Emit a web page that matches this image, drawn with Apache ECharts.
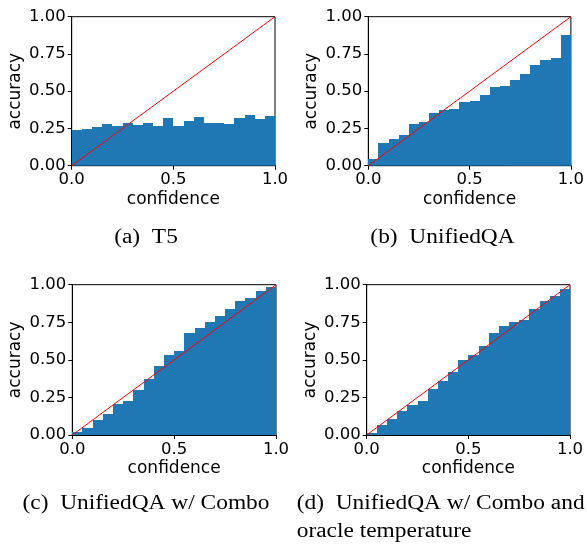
<!DOCTYPE html>
<html>
<head>
<meta charset="utf-8">
<script src="https://cdn.jsdelivr.net/npm/echarts@6/dist/echarts.min.js"></script>
<style>
html,body{margin:0;padding:0;background:#fff;}
#chart{width:587px;height:544px;}
</style>
</head>
<body>
<div id="chart"></div>
<script>
// ---- data ----
var binLeft = [0.00,0.05,0.10,0.15,0.20,0.25,0.30,0.35,0.40,0.45,0.50,0.55,0.60,0.65,0.70,0.75,0.80,0.85,0.90,0.95];
var binWidth = 0.05;
var accT5 = [0.239,0.246,0.260,0.280,0.266,0.286,0.273,0.286,0.266,0.322,0.266,0.300,0.327,0.286,0.286,0.280,0.320,0.340,0.313,0.333];
var accUnifiedQA = [0.045,0.152,0.179,0.206,0.280,0.293,0.353,0.374,0.380,0.427,0.434,0.474,0.528,0.535,0.575,0.615,0.676,0.709,0.723,0.877];
var accCombo = [0.018,0.047,0.098,0.140,0.204,0.227,0.300,0.373,0.458,0.531,0.560,0.680,0.713,0.753,0.793,0.840,0.893,0.913,0.960,0.987];
var accOracle = [0.016,0.069,0.109,0.160,0.202,0.229,0.309,0.362,0.416,0.496,0.529,0.589,0.676,0.722,0.749,0.762,0.836,0.889,0.922,0.969];
var diagonal = [[0,0],[1,1]];
var xTicks = ['0.0','0.5','1.0'];
var yTicks = ['0.00','0.25','0.50','0.75','1.00'];
var captions = ['(a)\u00a0\u00a0T5','(b)\u00a0\u00a0UnifiedQA','(c)\u00a0\u00a0UnifiedQA w/ Combo','(d)\u00a0\u00a0UnifiedQA w/ Combo and','oracle temperature'];
var panels = [accT5, accUnifiedQA, accCombo, accOracle];

// ---- layout ----
var grids = [
  {left:71.7, top:16.7, width:203.3, height:149},
  {left:368.3, top:16.7, width:203.4, height:149},
  {left:72.3, top:284.7, width:203.7, height:150.3},
  {left:366.7, top:284.7, width:203.3, height:150.3}
];
var tickFont = {fontFamily:'DejaVu Sans', fontSize:16.5, color:'#000'};
var BAR = '#1f77b4';
function cap(text, x, y, align){
  return {type:'text', x:x, y:y, scaleX:1.17, scaleY:1, silent:true,
    style:{text:text, fontFamily:'Liberation Serif', fontSize:20, fill:'#000', align:align, verticalAlign:'middle'}};
}

var option = {
  animation:false,
  backgroundColor:'#fff',
  grid: grids.map(function(g){
    return {left:g.left, top:g.top, width:g.width, height:g.height, show:true,
      borderColor:'#000', borderWidth:1, backgroundColor:'transparent', containLabel:false};
  }),
  xAxis: grids.map(function(g,i){
    return {type:'value', gridIndex:i, min:0, max:1, interval:0.5,
      name:'confidence', nameLocation:'middle', nameGap:25,
      nameTextStyle:{fontFamily:'DejaVu Sans', fontSize:17, color:'#000'},
      axisLine:{show:true, lineStyle:{color:'#000', width:1}},
      axisTick:{show:true, inside:false, length:4, lineStyle:{color:'#000'}},
      axisLabel:Object.assign({margin:6, formatter:function(v){return xTicks[Math.round(v*2)];}}, tickFont),
      splitLine:{show:false}};
  }),
  yAxis: grids.map(function(g,i){
    return {type:'value', gridIndex:i, min:0, max:1, interval:0.25,
      name:'accuracy', nameLocation:'middle', nameGap:48, nameRotate:90,
      nameTextStyle:{fontFamily:'DejaVu Sans', fontSize:17, color:'#000'},
      axisLine:{show:true, lineStyle:{color:'#000', width:1}},
      axisTick:{show:true, inside:false, length:4, lineStyle:{color:'#000'}},
      axisLabel:Object.assign({margin:6, formatter:function(v){return yTicks[Math.round(v*4)];}}, tickFont),
      splitLine:{show:false}};
  }),
  series: [],
  graphic: [
    cap(captions[0], 146, 237.5, 'center'),
    cap(captions[1], 442.5, 237.5, 'center'),
    cap(captions[2], 146, 503.5, 'center'),
    cap(captions[3], 296.7, 503.5, 'left'),
    cap(captions[4], 296.7, 531.5, 'left')
  ]
};

panels.forEach(function(vals, i){
  option.series.push({
    type:'custom', xAxisIndex:i, yAxisIndex:i, z:2,
    encode:{x:0, y:1},
    data: binLeft.map(function(b,k){ return [b, vals[k]]; }),
    renderItem:function(params, api){
      var x0 = api.value(0), y = api.value(1);
      var p0 = api.coord([x0, y]);
      var p1 = api.coord([x0 + binWidth, 0]);
      var xa = Math.round(p0[0]), xb = Math.round(p1[0]);
      var ya = Math.round(p0[1]), yb = p1[1];
      return {type:'rect', shape:{x:xa, y:ya, width:xb-xa, height:yb-ya},
        style:{fill:BAR}};
    }
  });
  option.series.push({
    type:'line', xAxisIndex:i, yAxisIndex:i, z:5, data:diagonal,
    symbol:'none', lineStyle:{color:'#ff0000', width:1}, clip:true
  });
});

var chart = echarts.init(document.getElementById('chart'), null, {renderer:'canvas'});
chart.setOption(option);
</script>
</body>
</html>
